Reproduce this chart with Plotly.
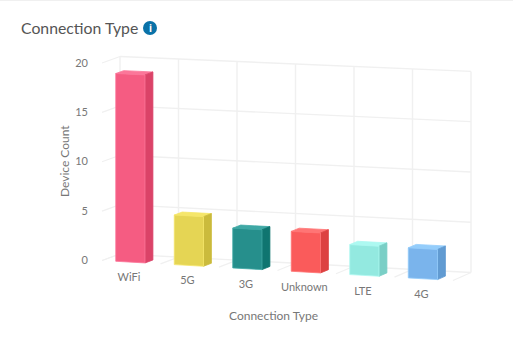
import plotly.graph_objects as go

categories = ["WiFi", "5G", "3G", "Unknown", "LTE", "4G"]
device_counts = [19, 5, 4, 4, 3, 3]
front_colors = ["#f55c82", "#e5d554", "#268f8c", "#fa5b5b", "#93e9e0", "#7ab4ec"]
side_colors = ["#db4368", "#cbbb3c", "#0f7570", "#dd4141", "#7acfc6", "#619bd2"]
top_colors = ["#fb7699", "#f5e66a", "#3fa8a5", "#ff7575", "#adf9f1", "#94cdfb"]
value_ticks = [0, 5, 10, 15, 20]

UNIT_X = 58.5      # pixels per category
UNIT_Y = 10.0      # pixels per device
ORIGIN_X = 102.0   # pixel position of the front-left floor corner
ORIGIN_Y = 260.5
GRID = "#f0f0f0"
TEXT = "#777777"
FONT = "Lato"
BAR_START, BAR_WIDTH, BAR_DEPTH = 0.235, 0.5, 0.44


def project(u, v, d=0.0):
    """Category position u, value v, depth d (0 front, 1 back wall) to axis coordinates."""
    x = u + d * 18 / UNIT_X
    y = v * (0.9875 + 0.003 * u) - (u * (3.33 - 0.25 * d)) / UNIT_Y + d * 0.65
    return x, y


fig = go.Figure()


def poly(points, fill, line=None, width=0.8):
    xs, ys = zip(*[project(*p) for p in points + points[:1]])
    fig.add_trace(go.Scatter(x=xs, y=ys, mode="lines", fill="toself", fillcolor=fill,
                             line=dict(color=line or fill, width=width), hoverinfo="skip"))


def segment(a, b, width=1.4, color=GRID):
    xs, ys = zip(project(*a), project(*b))
    fig.add_trace(go.Scatter(x=xs, y=ys, mode="lines",
                             line=dict(color=color, width=width), hoverinfo="skip"))


n = len(categories)
for tick in value_ticks:
    segment((0, tick, 1), (n, tick, 1))
    segment((0, tick, 0), (0, tick, 1), 1.2)
for i in range(n + 1):
    segment((i, value_ticks[0], 1), (i, value_ticks[-1], 1))
    segment((i, 0, 0), (i, 0, 1), 1.2)

for i, value in enumerate(device_counts):
    l = i + BAR_START
    r = l + BAR_WIDTH
    poly([(l, value, 0), (r, value, 0), (r, value, BAR_DEPTH), (l, value, BAR_DEPTH)], top_colors[i])
    poly([(r, 0, 0), (r, value, 0), (r, value, BAR_DEPTH), (r, 0, BAR_DEPTH)], side_colors[i])
    poly([(l, 0, 0), (r, 0, 0), (r, value, 0), (l, value, 0)], front_colors[i], top_colors[i])

lx, ly = zip(*[project(i + 0.46, -1.65) for i in range(n)])
fig.add_trace(go.Scatter(x=lx, y=ly, mode="text", text=categories, textposition="middle center",
                         textfont=dict(family=FONT, size=11, color=TEXT), hoverinfo="skip"))
vx, vy = zip(*[project(-0.24, t - 0.15, 0) for t in value_ticks])
fig.add_trace(go.Scatter(x=vx, y=vy, mode="text", text=[str(t) for t in value_ticks],
                         textposition="middle left",
                         textfont=dict(family=FONT, size=11, color=TEXT), hoverinfo="skip"))

fig.update_layout(
    width=513, height=360, autosize=False, showlegend=False,
    margin=dict(l=0, r=0, t=0, b=0),
    paper_bgcolor="white", plot_bgcolor="white",
    xaxis=dict(visible=False, range=[-ORIGIN_X / UNIT_X, (513 - ORIGIN_X) / UNIT_X]),
    yaxis=dict(visible=False, range=[-(360 - ORIGIN_Y) / UNIT_Y, ORIGIN_Y / UNIT_Y]),
    title=dict(text="Connection Type", x=21 / 513, xanchor="left", y=1 - 28 / 360, yanchor="middle",
               font=dict(family=FONT, size=15.8, color="#555555")),
    annotations=[
        dict(text="Device Count", xref="paper", yref="paper", x=64 / 513, y=1 - 161 / 360,
             xanchor="center", yanchor="middle",
             textangle=-90, showarrow=False, font=dict(family=FONT, size=12, color=TEXT)),
        dict(text="Connection Type", xref="paper", yref="paper", x=273 / 513, y=1 - 315 / 360,
             xanchor="center", yanchor="middle",
             showarrow=False, font=dict(family=FONT, size=12, color=TEXT)),
        dict(text="<b>i</b>", xref="paper", yref="paper", x=150 / 513, y=1 - 28 / 360,
             xanchor="center", yanchor="middle",
             showarrow=False, font=dict(family="Noto Sans", size=10, color="white")),
    ],
    shapes=[
        dict(type="circle", xref="paper", yref="paper", x0=143 / 513, x1=157 / 513,
             y0=1 - 35 / 360, y1=1 - 21 / 360, fillcolor="#0a72a8", line=dict(width=0), layer="below"),
        dict(type="line", xref="paper", yref="paper", x0=0, x1=1, y0=0.999, y1=0.999,
             line=dict(color="#f0f0f0", width=1.5)),
    ],
)
fig.write_html("out.html", config=dict(displayModeBar=False),
               post_script="document.body.style.margin='0';")
